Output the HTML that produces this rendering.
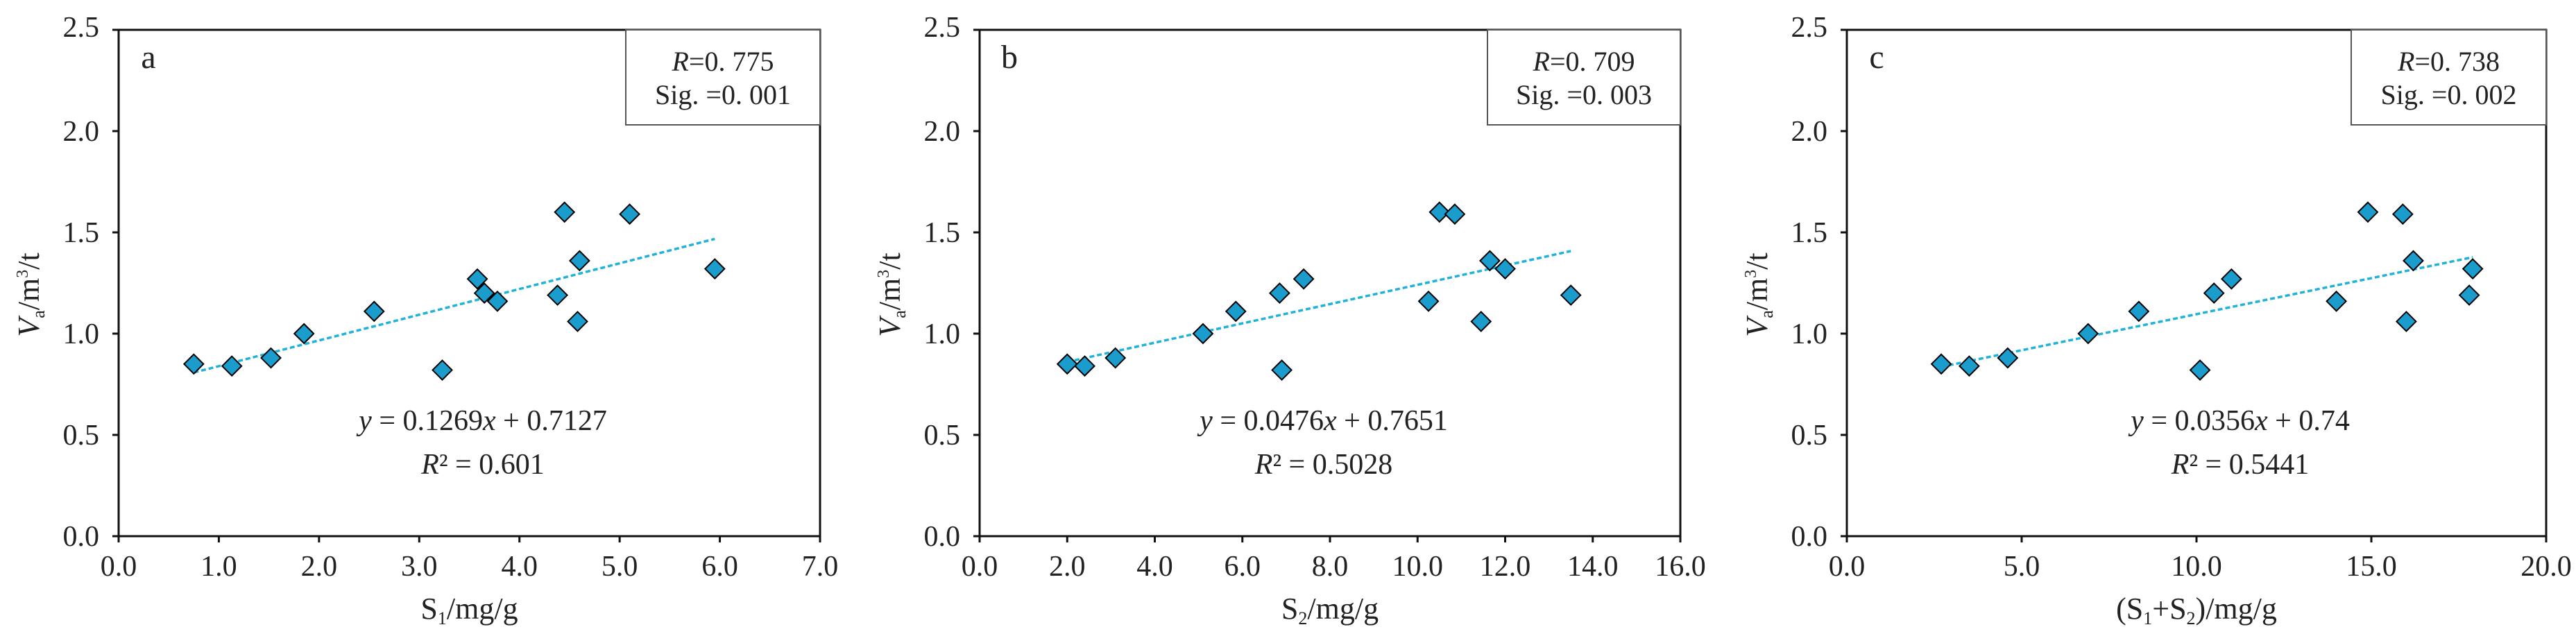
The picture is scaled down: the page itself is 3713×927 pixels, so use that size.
<!DOCTYPE html>
<html><head><meta charset="utf-8">
<style>
html,body{margin:0;padding:0;background:#fff;}
svg{display:block;font-family:"Liberation Serif",serif;}
</style></head>
<body>
<svg id="chart" width="3713" height="927" viewBox="0 0 3713 927" xmlns="http://www.w3.org/2000/svg"></svg>
<script>
// Panel a data
const aX = [0.75,1.13,1.52,1.85,2.55,3.23,3.58,3.65,3.78,4.38,4.45,4.58,4.6,5.1,5.95];
const aY = [0.85,0.84,0.88,1.0,1.11,0.82,1.27,1.2,1.16,1.19,1.6,1.06,1.36,1.59,1.32];
const aTicks = ["0.0","1.0","2.0","3.0","4.0","5.0","6.0","7.0"];
// Panel b data
const bX = [2.0,2.4,3.1,5.1,5.85,6.85,6.9,7.4,10.25,10.5,10.85,11.45,11.65,12.0,13.5];
const bY = [0.85,0.84,0.88,1.0,1.11,1.2,0.82,1.27,1.16,1.6,1.59,1.06,1.36,1.32,1.19];
const bTicks = ["0.0","2.0","4.0","6.0","8.0","10.0","12.0","14.0","16.0"];
// Panel c data
const cX = [2.7,3.5,4.6,6.9,8.35,10.1,10.5,11.0,14.0,14.9,15.9,16.0,16.2,17.8,17.9];
const cY = [0.85,0.84,0.88,1.0,1.11,0.82,1.2,1.27,1.16,1.6,1.59,1.06,1.36,1.19,1.32];
const cTicks = ["0.0","5.0","10.0","15.0","20.0"];
const yTicks = ["0.0","0.5","1.0","1.5","2.0","2.5"];
const slopes = [0.1269,0.0476,0.0356];
const intercepts = [0.7127,0.7651,0.74];
const xMaxes = [7,16,20];

const NS="http://www.w3.org/2000/svg";
const svg=document.getElementById('chart');
function mk(tag,attrs,parent){const e=document.createElementNS(NS,tag);for(const k in attrs)e.setAttribute(k,attrs[k]);(parent||svg).appendChild(e);return e;}

const panels=[
 {id:'a',left:171,right:1182,xs:aX,ys:aY,ticks:aTicks,legend:[902,"0. 775","0. 001"],eqx:696,
  eq:"y = 0.1269x + 0.7127",r2:"0.601",xtitle:['S','1','/mg/g'],lx:214},
 {id:'b',left:1412,right:2422,xs:bX,ys:bY,ticks:bTicks,legend:[2144,"0. 709","0. 003"],eqx:1908,
  eq:"y = 0.0476x + 0.7651",r2:"0.5028",xtitle:['S','2','/mg/g'],lx:1455},
 {id:'c',left:2662,right:3670,xs:cX,ys:cY,ticks:cTicks,legend:[3389,"0. 738","0. 002"],eqx:3229,
  eq:"y = 0.0356x + 0.74",r2:"0.5441",xtitle:['(S','1','+S','2',')/mg/g'],lx:2705}
];
const plotTop=43,plotBottom=773;

panels.forEach((p,pi)=>{
  const g=mk('g',{});
  
  
  const xMax=xMaxes[pi];
  const sx=v=>p.left+(p.right-p.left)*v/xMax;
  const sy=v=>plotBottom-(plotBottom-plotTop)*v/2.5;
  const fr=mk('rect',{x:p.left,y:plotTop,width:p.right-p.left,height:plotBottom-plotTop,fill:'none',stroke:'#111','stroke-width':3},g);
  
  
  yTicks.forEach((t,i)=>{
    const y=sy(i*0.5);
    const tl=mk('line',{x1:p.left-9,x2:p.left,y1:y,y2:y,stroke:'#111','stroke-width':3},g);
    
    
    const tx=mk('text',{x:p.left-28,y:(i===5?y+10:y+14),'text-anchor':'end','font-size':42,fill:'#222'},g);
    tx.textContent=t;
    
    
  });
  p.ticks.forEach((t,i)=>{
    const v=parseFloat(t);
    const x=sx(v);
    const tl=mk('line',{x1:x,x2:x,y1:plotBottom,y2:plotBottom+9,stroke:'#111','stroke-width':3},g);
    
    
    const tx=mk('text',{x:x,y:830,'text-anchor':'middle','font-size':42,fill:'#222'},g);
    tx.textContent=t;
    
    
  });
  const yt=mk('text',{x:0,y:0,'text-anchor':'middle','font-size':44,fill:'#222',transform:`translate(${p.left-115},425) rotate(-90)`},g);
  yt.innerHTML='<tspan font-style="italic">V</tspan><tspan font-size="26" dy="8">a</tspan><tspan dy="-8">/m</tspan><tspan font-size="24" dy="-16">3</tspan><tspan dy="16">/t</tspan>';
  
  
  const xt=mk('text',{x:(p.left+p.right)/2,y:892,'text-anchor':'middle','font-size':44,fill:'#222'},g);
  let h='';
  p.xtitle.forEach((s,k)=>{ if(k%2===1) h+=`<tspan font-size="26" dy="8">${s}</tspan>`; else h+=`<tspan dy="${k===0?0:-8}">${s}</tspan>`;});
  xt.innerHTML=h;
  
  
  const pl=mk('text',{x:p.lx,y:98,'text-anchor':'middle','font-size':48,fill:'#222'},g);
  pl.textContent=p.id;
  
  
  const lb=mk('rect',{x:p.legend[0],y:plotTop,width:p.right-p.legend[0],height:137,fill:'#fff',stroke:'#555','stroke-width':2},g);
  
  
  const lc=(p.legend[0]+p.right)/2;
  const l1=mk('text',{x:lc,y:102,'text-anchor':'middle','font-size':40,fill:'#222'},g);
  l1.innerHTML='<tspan font-style="italic">R</tspan>='+p.legend[1];
  
  
  const l2=mk('text',{x:lc,y:150,'text-anchor':'middle','font-size':40,fill:'#222'},g);
  l2.textContent='Sig. ='+p.legend[2];
  
  
  const x0=Math.min(...p.xs),x1=Math.max(...p.xs);
  const tr=mk('line',{x1:sx(x0),y1:sy(slopes[pi]*x0+intercepts[pi]),x2:sx(x1),y2:sy(slopes[pi]*x1+intercepts[pi]),stroke:'#1fb3da','stroke-width':3.5,'stroke-dasharray':'7,4'},g);
  
  
  p.xs.forEach((xv,i)=>{
    const cx=sx(xv),cy=sy(p.ys[i]);
    const d=mk('polygon',{points:`${cx},${cy-14} ${cx+14},${cy} ${cx},${cy+14} ${cx-14},${cy}`,fill:'#1a9ccc',stroke:'#000','stroke-width':2},g);
    
    
  });
  const e1=mk('text',{x:p.eqx,y:620,'text-anchor':'middle','font-size':42,fill:'#222'},g);
  e1.innerHTML=p.eq.replace(/^y/,'<tspan font-style="italic">y</tspan>').replace(/x \+/,'<tspan font-style="italic">x</tspan> +');
  
  
  const e2=mk('text',{x:p.eqx,y:683,'text-anchor':'middle','font-size':42,fill:'#222'},g);
  e2.innerHTML='<tspan font-style="italic">R</tspan>² = '+p.r2;
  
  
});
</script>
</body></html>
